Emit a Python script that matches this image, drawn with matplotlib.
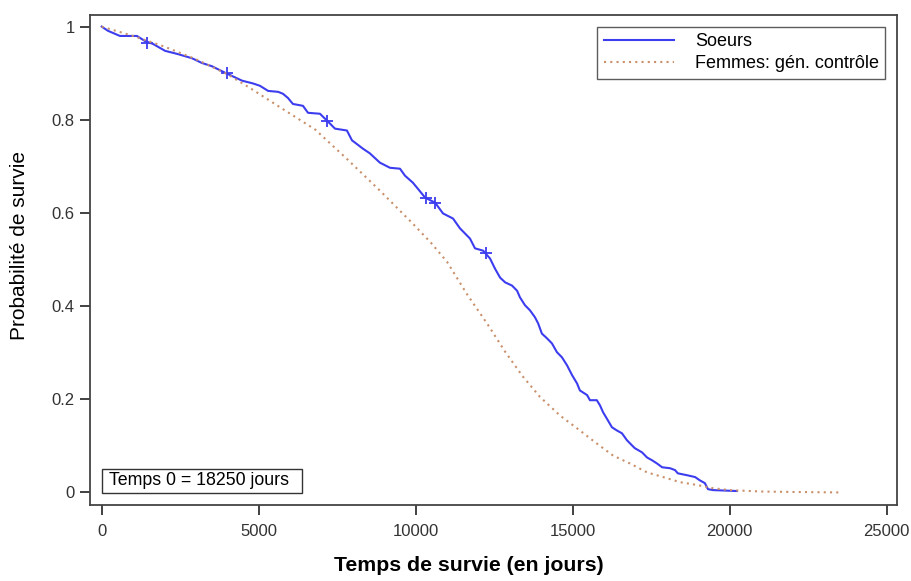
import matplotlib.pyplot as plt
import numpy as np
from matplotlib.patches import Rectangle

plt.rcParams['font.family'] = ['Liberation Sans', 'DejaVu Sans']

# courbe Kaplan-Meier des soeurs
t_soeurs = [0, 200, 580, 1120, 1380, 1630, 2020, 2430, 2880, 3190, 3510, 3930,
            4470, 4820, 5040, 5300, 5620, 5770, 5930, 6090, 6410, 6570, 6950,
            7180, 7430, 7810, 7970, 8320, 8540, 8860, 9180, 9500, 9660, 9910,
            10070, 10300, 10620, 10870, 11190, 11410, 11570, 11730, 11890,
            12150, 12370, 12530, 12690, 12850, 13070, 13230, 13320, 13480,
            13640, 13800, 13900, 14020, 14180, 14340, 14500, 14660, 14820,
            14980, 15140, 15230, 15460, 15550, 15770, 15870, 15970, 16120,
            16250, 16410, 16570, 16730, 16890, 16980, 17210, 17370, 17530,
            17690, 17850, 18100, 18260, 18350, 18640, 18900, 19050, 19210,
            19310, 19470, 20230]
s_soeurs = [1.0, 0.991, 0.98, 0.98, 0.969, 0.963, 0.948, 0.941, 0.932, 0.922,
            0.915, 0.901, 0.884, 0.878, 0.873, 0.862, 0.86, 0.856, 0.847,
            0.834, 0.83, 0.815, 0.813, 0.798, 0.781, 0.777, 0.756, 0.738,
            0.728, 0.708, 0.697, 0.695, 0.68, 0.665, 0.652, 0.633, 0.622,
            0.599, 0.588, 0.567, 0.556, 0.545, 0.524, 0.519, 0.502, 0.48,
            0.461, 0.451, 0.444, 0.433, 0.419, 0.402, 0.391, 0.376, 0.363,
            0.341, 0.331, 0.32, 0.301, 0.29, 0.273, 0.252, 0.234, 0.219,
            0.209, 0.198, 0.198, 0.187, 0.172, 0.155, 0.14, 0.133, 0.127,
            0.112, 0.101, 0.095, 0.086, 0.075, 0.069, 0.062, 0.054, 0.052,
            0.048, 0.041, 0.037, 0.033, 0.026, 0.02, 0.007, 0.005, 0.003]

# censures
t_cens = [1450, 4000, 7180, 10330, 10620, 12250]
s_cens = [0.965, 0.901, 0.798, 0.632, 0.622, 0.513]

# generation controle
t_ctrl = [0, 1000, 2000, 3000, 4000, 4730, 5700, 6800, 7810, 8860, 9910,
          10500, 11000, 11640, 12300, 12850, 13400, 13960, 14600, 15230, 15770,
          16290, 16830, 17370, 17880, 18420, 18960, 19470, 20000, 21000,
          22000, 23500]
s_ctrl = [1.0, 0.98, 0.957, 0.93, 0.898, 0.868, 0.826, 0.779, 0.716, 0.648,
          0.577, 0.535, 0.495, 0.425, 0.36, 0.302, 0.25, 0.205, 0.165, 0.133,
          0.105, 0.079, 0.062, 0.043, 0.033, 0.022, 0.016, 0.009, 0.005,
          0.002, 0.001, 0.0]

fig = plt.figure(figsize=(9.11, 5.81), dpi=100)
ax = fig.add_axes([0.0988, 0.1308, 0.8858, 0.8434])

ax.plot(t_soeurs, s_soeurs, color='#3d3df0', lw=1.5, label='Soeurs')
ax.plot(t_cens, s_cens, ls='none', marker='+', ms=9, mew=1.3, color='#3d3df0')
ax.plot(t_ctrl, s_ctrl, color='#c9906a', lw=1.5, ls=(0, (1, 2)),
        label='Femmes: gén. contrôle')

ax.set_xlim(-373, 25330)
ax.set_ylim(-0.027, 1.025)
ax.set_xticks([0, 5000, 10000, 15000, 20000, 25000])
ax.set_yticks([0, 0.2, 0.4, 0.6, 0.8, 1])
ax.set_yticklabels(['0', '0.2', '0.4', '0.6', '0.8', '1'])
ax.tick_params(direction='out', length=7, width=1.3, colors='#333333',
               labelsize=12)
ax.tick_params(axis='x', pad=7)
ax.tick_params(axis='y', pad=4)
for sp in ax.spines.values():
    sp.set_color('#444444')
    sp.set_linewidth(1.3)

ax.set_xlabel('Temps de survie (en jours)', fontsize=15.3, fontweight='bold')
ax.xaxis.set_label_coords(0.47, -0.105)
ax.set_ylabel('Probabilité de survie', fontsize=15)
ax.yaxis.set_label_coords(-0.075, 0.53)

leg = ax.legend(loc='upper right', fontsize=13, frameon=True, fancybox=False,
                borderpad=0.35, handlelength=3.9, handletextpad=1.15,
                labelspacing=0.3, borderaxespad=0.65)
leg.get_frame().set_edgecolor('#333333')
leg.get_frame().set_linewidth(1.0)

ax.add_patch(Rectangle((0.0149, 0.0245), 0.2478, 0.049, transform=ax.transAxes,
                       fc='white', ec='#333333', lw=1, zorder=4))
ax.text(0.0235, 0.049, 'Temps 0 = 18250 jours', transform=ax.transAxes,
        fontsize=12.8, va='center', ha='left', zorder=5)

fig.savefig('out.png', dpi=100)
